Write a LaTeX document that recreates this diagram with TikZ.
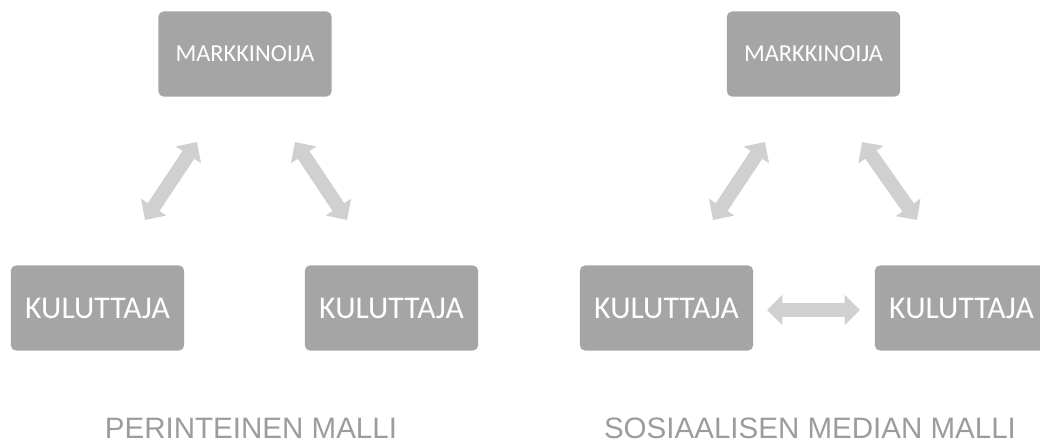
\documentclass[tikz,border=0pt]{standalone}
\usepackage{fontspec}
\setmainfont{Carlito}
\newfontfamily\labelfont{Liberation Sans}
\usetikzlibrary{arrows.meta}
\definecolor{boxgray}{HTML}{A5A5A5}
\definecolor{arrowgray}{HTML}{D0D0D0}
\definecolor{labelgray}{HTML}{9C9C9C}

\begin{document}
\begin{tikzpicture}[x=0.025cm, y=-0.025cm,
  box/.style = {fill=boxgray, rounded corners=3.5pt, minimum width=4.325cm, minimum height=2.125cm, inner sep=0pt, text=white},
  big/.style = {box, font=\fontsize{22.5}{24}\selectfont},
  small/.style = {box, font=\fontsize{17.3}{19}\selectfont},
  dbl/.style = {draw=arrowgray, line width=10pt, {Triangle[length=11pt, width=21pt]}-{Triangle[length=11pt, width=21pt]}},
  caption/.style = {anchor=base, text=labelgray, font=\labelfont\fontsize{21}{23}\selectfont}]
  \useasboundingbox (0,0) rectangle (1040,444);
  \begin{scope}
    \clip (0,0) rectangle (1040,444);
  % perinteinen malli
  \node[small] (m1) at (245,54) {MARKKINOIJA};
  \node[big] (k1) at (97.5,308) {KULUTTAJA};
  \node[big] (k2) at (391.5,308) {KULUTTAJA};
  \coordinate (a1) at (145,220);
  \coordinate (b1) at (197,142);
  \coordinate (a2) at (295,142);
  \coordinate (b2) at (347,220);
  \draw[dbl] (a1) to (b1);
  \draw[dbl] (a2) to (b2);
  \node[caption] (p1) at (251,439) {PERINTEINEN MALLI};
  % sosiaalisen median malli
  \node[small] (m2) at (813.5,54) {MARKKINOIJA};
  \node[big] (k3) at (666.5,308) {KULUTTAJA};
  \node[big] (k4) at (961.5,308) {KULUTTAJA};
  \coordinate (a3) at (713,220);
  \coordinate (b3) at (765,142);
  \coordinate (a4) at (862,142);
  \coordinate (b4) at (917,220);
  \coordinate (a5) at (767,310);
  \coordinate (b5) at (860,310);
  \draw[dbl] (a3) to (b3);
  \draw[dbl] (a4) to (b4);
  \draw[dbl] (a5) to (b5);
  \node[caption] (p2) at (810,439) {SOSIAALISEN MEDIAN MALLI};
  \end{scope}
\end{tikzpicture}
\end{document}
